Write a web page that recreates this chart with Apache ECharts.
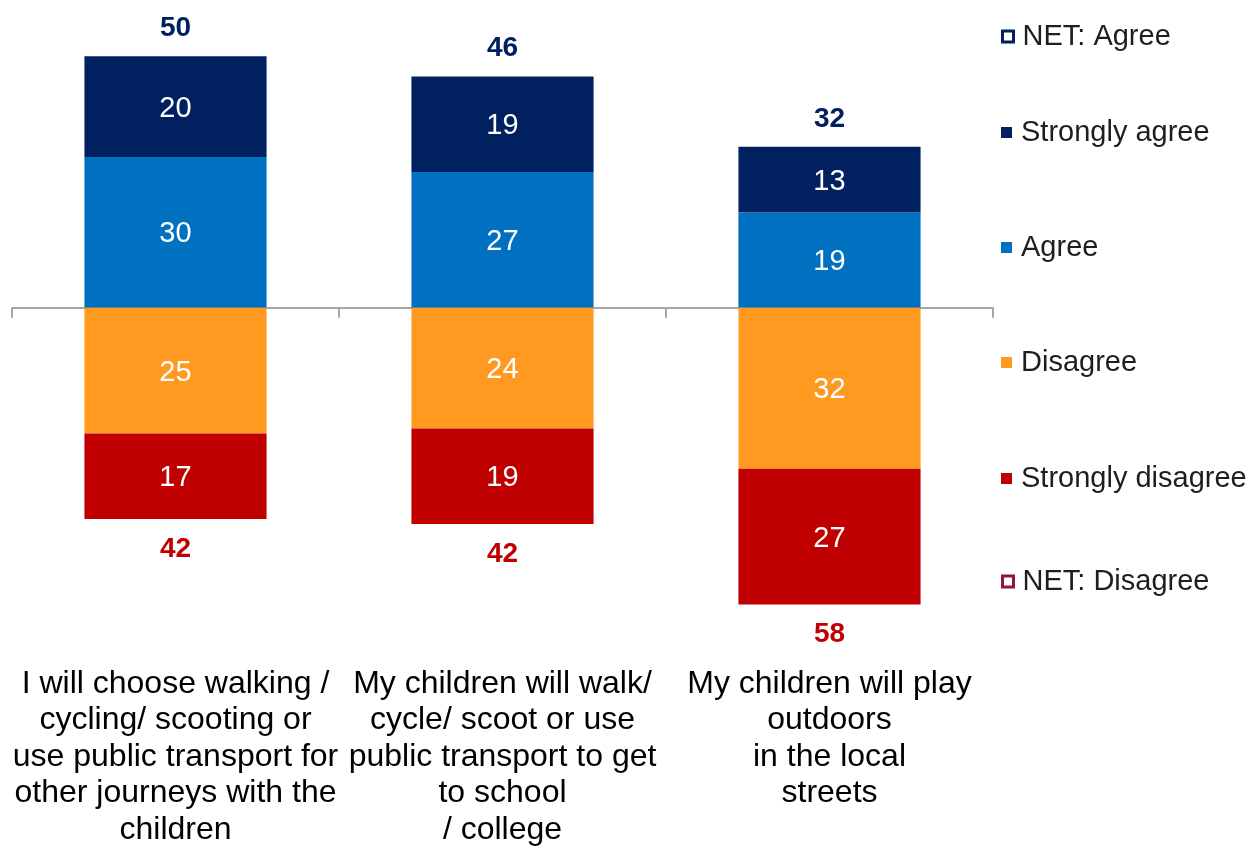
<!DOCTYPE html>
<html>
<head>
<meta charset="utf-8">
<title>Attitudes to active travel</title>
<script src="https://cdn.jsdelivr.net/npm/echarts@6/dist/echarts.min.js"></script>
<style>
  html, body { margin: 0; padding: 0; background: #ffffff; }
  #chart { width: 1260px; height: 848px; }
</style>
</head>
<body>
<div id="chart"></div>
<script>
// Statements shown along the bottom axis
const categories = [
  'I will choose walking /\ncycling/ scooting or\nuse public transport for\nother journeys with the\nchildren',
  'My children will walk/\ncycle/ scoot or use\npublic transport to get\nto school\n/ college',
  'My children will play\noutdoors\nin the local\nstreets'
];

// Percentages per response
const stronglyAgree = [20, 19, 13];
const agree = [30, 27, 19];
const disagree = [25, 24, 32];
const stronglyDisagree = [17, 19, 27];
const netAgree = [50, 46, 32];
const netDisagree = [42, 42, 58];

const FONT = '"Liberation Sans", Arial, sans-serif';
const C_SA = '#002060';
const C_A = '#0070C0';
const C_D = '#FF991F';
const C_SD = '#C00000';
const C_NETD = '#8B1A3A';
const BAR_W = '55.7%';

const GRID_TOP = 6;
const GRID_H = 606;
const Y_MIN = -60;
const Y_MAX = 60;
const PX_PER_UNIT = GRID_H / (Y_MAX - Y_MIN);

const chart = echarts.init(document.getElementById('chart'), null, { renderer: 'canvas' });

const segLabel = {
  show: true,
  position: 'inside',
  offset: [0, 2],
  color: '#ffffff',
  fontFamily: FONT,
  fontSize: 29,
  formatter: p => Math.abs(p.value)
};

function legendItem(name, top, style) {
  return {
    data: [{ name: name, icon: 'rect', itemStyle: style }],
    orient: 'vertical',
    left: 996,
    top: top,
    itemWidth: 11,
    itemHeight: 11,
    itemGap: 0,
    selectedMode: false,
    textStyle: { fontFamily: FONT, fontSize: 29, color: '#1e1e1e', padding: [0, 0, 0, 4] }
  };
}

// Net labels sit just beyond the end of the stacked segments, which can
// differ from the rounded net figure by a point.
function netItems(net, partA, partB, sign, baseDistance) {
  return net.map((v, i) => {
    const stackEnd = partA[i] + partB[i];
    const extra = Math.max(0, stackEnd - v) * PX_PER_UNIT;
    return { value: sign * v, label: { distance: baseDistance + extra } };
  });
}

const option = {
  backgroundColor: '#ffffff',
  animation: false,
  legend: [
    legendItem('NET: Agree', 17, { color: '#ffffff', borderColor: C_SA, borderWidth: 3 }),
    legendItem('Strongly agree', 113),
    legendItem('Agree', 228),
    legendItem('Disagree', 343),
    legendItem('Strongly disagree', 459),
    legendItem('NET: Disagree', 562, { color: '#ffffff', borderColor: C_NETD, borderWidth: 3 })
  ],
  grid: { left: 12, right: 267, top: GRID_TOP, height: GRID_H },
  xAxis: [
    {
      type: 'category',
      data: categories,
      boundaryGap: true,
      axisLine: { onZero: true, lineStyle: { color: '#A6A6A6', width: 2 } },
      axisTick: { show: true, length: 10, lineStyle: { color: '#A6A6A6', width: 2 } },
      axisLabel: { show: false }
    },
    {
      type: 'category',
      data: categories,
      position: 'bottom',
      axisLine: { show: false, onZero: false },
      axisTick: { show: false },
      axisLabel: {
        show: true,
        interval: 0,
        margin: 56,
        fontFamily: FONT,
        fontSize: 32,
        lineHeight: 36.5,
        color: '#000000',
        align: 'center'
      }
    }
  ],
  yAxis: {
    type: 'value',
    min: Y_MIN,
    max: Y_MAX,
    show: false,
    splitLine: { show: false }
  },
  series: [
    {
      name: 'Agree', type: 'bar', stack: 'pos', barWidth: BAR_W, barGap: '-100%',
      itemStyle: { color: C_A }, label: segLabel, data: agree
    },
    {
      name: 'Strongly agree', type: 'bar', stack: 'pos', barWidth: BAR_W, barGap: '-100%',
      itemStyle: { color: C_SA }, label: segLabel, data: stronglyAgree
    },
    {
      name: 'Disagree', type: 'bar', stack: 'neg', barWidth: BAR_W, barGap: '-100%',
      itemStyle: { color: C_D }, label: segLabel, data: disagree.map(v => -v)
    },
    {
      name: 'Strongly disagree', type: 'bar', stack: 'neg', barWidth: BAR_W, barGap: '-100%',
      itemStyle: { color: C_SD }, label: segLabel, data: stronglyDisagree.map(v => -v)
    },
    {
      name: 'NET: Agree', type: 'bar', stack: 'netA', barWidth: BAR_W, barGap: '-100%',
      itemStyle: { color: 'rgba(0,0,0,0)' },
      label: {
        show: true, position: 'top',
        color: C_SA, fontFamily: FONT, fontSize: 28, fontWeight: 'bold',
        formatter: p => Math.abs(p.value)
      },
      data: netItems(netAgree, agree, stronglyAgree, 1, 14),
      z: 1
    },
    {
      name: 'NET: Disagree', type: 'bar', stack: 'netD', barWidth: BAR_W, barGap: '-100%',
      itemStyle: { color: 'rgba(0,0,0,0)' },
      label: {
        show: true, position: 'bottom',
        color: C_SD, fontFamily: FONT, fontSize: 28, fontWeight: 'bold',
        formatter: p => Math.abs(p.value)
      },
      data: netItems(netDisagree, disagree, stronglyDisagree, -1, 16),
      z: 1
    }
  ]
};

chart.setOption(option);
</script>
</body>
</html>
